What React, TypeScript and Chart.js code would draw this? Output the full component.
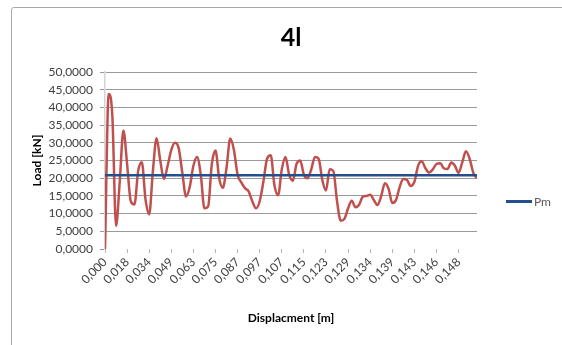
import React, { useEffect, useRef } from 'react';
import { Chart, registerables } from 'chart.js';

Chart.register(...registerables);

// X tick labels (displacement, m) shown every POINTS_PER_LABEL samples
const TICK_LABELS = [
  '0,000', '0,018', '0,034', '0,049', '0,063', '0,075', '0,087', '0,097', '0,107',
  '0,115', '0,123', '0,129', '0,134', '0,139', '0,143', '0,146', '0,148',
];
const POINTS_PER_LABEL = 6;

// Load [kN] samples
const LOAD = [
  0, 43.8, 37.5, 6.5, 19, 33.5, 24, 13.5, 12.6, 22,
  24.5, 14, 9.8, 22, 31.3, 25, 19.8, 23.5, 28, 30,
  28.5, 21.5, 14.8, 17.5, 23.5, 26, 21, 11.5, 12, 24,
  27.8, 20, 17.3, 23, 31.2, 28, 21, 18.8, 17.2, 16.3,
  13.5, 11.5, 13.5, 19, 25.5, 26.5, 18, 15.2, 22.5, 26,
  21, 19.3, 24, 25, 21, 20, 22.5, 26, 25.5, 19.5,
  16.5, 22.5, 22, 13.5, 8, 8.5, 11.5, 13.6, 11.8, 12.5,
  14.8, 15, 15.3, 13.8, 12.4, 15, 18.6, 17, 13, 13.8,
  17.5, 19.8, 19.5, 17.8, 19, 23.5, 24.8, 22.8, 21.6, 22.5,
  24, 24.2, 22.8, 22.6, 24.4, 23.5, 21.5, 24.5, 27.6, 25.5,
  21.5, 20,
];

// Mean load Pm [kN]
const PM_VALUE = 20.8;

const Y_MIN = 0;
const Y_MAX = 50;
const Y_STEP = 5;

const FONT = 'Lato, "Open Sans", "DejaVu Sans", sans-serif';

export default function App() {
  const canvasRef = useRef<HTMLCanvasElement | null>(null);

  useEffect(() => {
    const canvas = canvasRef.current;
    if (!canvas) return;
    const loadPoints = LOAD.map((y, i) => ({ x: i, y }));
    const pmPoints = LOAD.map((_, i) => ({ x: i, y: PM_VALUE }));

    const chart = new Chart(canvas, {
      type: 'line',
      data: {
        datasets: [
          {
            label: 'Pm',
            data: pmPoints,
            borderColor: '#254f8c',
            borderWidth: 2.5,
            pointRadius: 0,
            fill: false,
          },
          {
            label: 'Load',
            data: loadPoints,
            borderColor: '#c0504d',
            borderWidth: 2.5,
            pointRadius: 0,
            fill: false,
            cubicInterpolationMode: 'monotone',
            borderJoinStyle: 'round',
          },
        ],
      },
      options: {
        animation: false,
        responsive: false,
        maintainAspectRatio: false,
        layout: { padding: { left: 0, right: 85, top: 0, bottom: 0 } },
        plugins: {
          legend: { display: false },
          tooltip: { enabled: false },
          title: {
            display: true,
            text: '4l',
            fullSize: false,
            color: '#000000',
            font: { family: FONT, size: 25, weight: 'bold' },
            padding: { top: 23, bottom: 19 },
          },
        },
        scales: {
          x: {
            type: 'linear',
            min: 0,
            max: LOAD.length - 1,
            afterBuildTicks: (scale: any) => {
              scale.ticks = TICK_LABELS.map((_, i) => ({ value: i * POINTS_PER_LABEL }));
            },
            afterFit: (scale: any) => {
              scale.height = 96;
            },
            ticks: {
              autoSkip: false,
              maxRotation: 45,
              minRotation: 45,
              padding: 2,
              color: '#404040',
              font: { family: FONT, size: 12 },
              callback: (v: any) => {
                const idx = Math.round(Number(v) / POINTS_PER_LABEL);
                return TICK_LABELS[idx] ?? '';
              },
            },
            grid: {
              display: true,
              drawOnChartArea: false,
              drawTicks: true,
              tickLength: 4,
              tickColor: '#b5b5b5',
            },
            border: { display: false },
            title: {
              display: true,
              text: 'Displacment [m]',
              color: '#000000',
              font: { family: FONT, size: 12, weight: 'bold' },
              padding: { top: 0, bottom: 20 },
            },
          },
          y: {
            min: Y_MIN,
            max: Y_MAX,
            afterFit: (scale: any) => {
              scale.width = 105;
            },
            ticks: {
              stepSize: Y_STEP,
              padding: 7,
              color: '#404040',
              font: { family: FONT, size: 12 },
              callback: (v: any) => Number(v).toFixed(4).replace('.', ','),
            },
            grid: {
              color: (ctx: any) => (ctx.tick && ctx.tick.value === 0 ? 'rgba(0,0,0,0)' : '#9a9a9a'),
              tickColor: '#9a9a9a',
              tickLength: 5,
              lineWidth: 1,
            },
            border: { display: true, color: '#d4d4d4', width: 1.5 },
            title: {
              display: true,
              text: 'Load [kN]',
              color: '#000000',
              font: { family: FONT, size: 12, weight: 'bold' },
              padding: { top: 30, bottom: 0 },
            },
          },
        },
      },
    });
    return () => chart.destroy();
  }, []);

  return (
    <div
      style={{
        position: 'absolute',
        left: 0,
        top: 0,
        width: 562,
        height: 345,
        overflow: 'hidden',
        background: '#ffffff',
      }}
    >
      <div
        style={{
          position: 'absolute',
          left: 11,
          top: 7,
          width: 620,
          height: 400,
          border: '1px solid #a8a8a8',
          borderRadius: 3,
        }}
      />
      <canvas
        ref={canvasRef}
        width={562}
        height={345}
        style={{ position: 'absolute', left: 0, top: 0, width: 562, height: 345 }}
      />
      <div
        style={{
          position: 'absolute',
          left: 506,
          top: 194,
          display: 'flex',
          alignItems: 'center',
          fontFamily: FONT,
          fontSize: 12,
          color: '#595959',
        }}
      >
        <span style={{ display: 'inline-block', width: 26, height: 3, background: '#254f8c' }} />
        <span style={{ marginLeft: 2 }}>Pm</span>
      </div>
    </div>
  );
}
